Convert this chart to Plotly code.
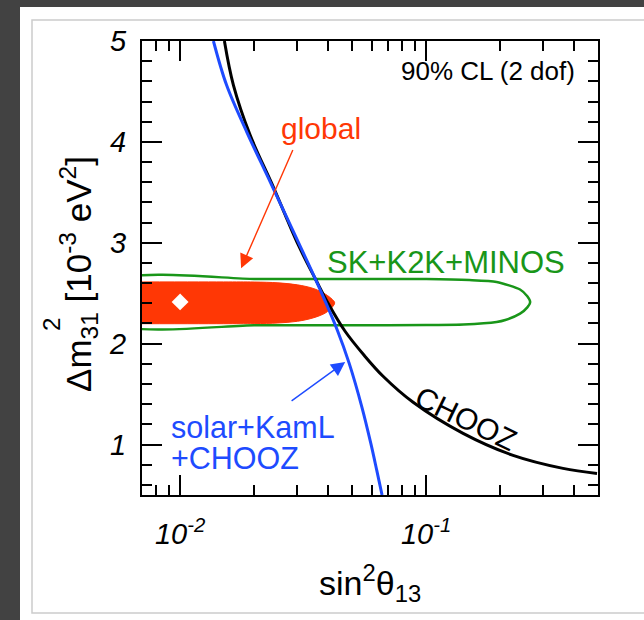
import numpy as np
import plotly.graph_objects as go

# ---------------- data ----------------
chooz_x = [0.01514, 0.01647, 0.01926, 0.02394, 0.03027, 0.03570, 0.03996, 0.04685,
           0.05598, 0.06686, 0.08859, 0.1414, 0.2258, 0.3604, 0.4954]
chooz_y = [5.0, 4.563, 4.067, 3.552, 2.976, 2.629, 2.401, 2.123,
           1.885, 1.677, 1.419, 1.111, 0.893, 0.764, 0.714]

solar_x = [0.01366, 0.01545, 0.01865, 0.02324, 0.03040, 0.03565, 0.04358, 0.04873,
           0.05483, 0.05965, 0.06304, 0.06623]
solar_y = [5.0, 4.563, 4.100, 3.604, 2.993, 2.629, 2.133, 1.802,
           1.372, 1.009, 0.744, 0.5]

sk_x = [0.006, 0.02, 0.05, 0.10, 0.15, 0.1936, 0.241, 0.258, 0.265,
        0.258, 0.241, 0.21, 0.1936, 0.1418, 0.10, 0.05, 0.02, 0.006, 0.006]
sk_y = [2.64, 2.642, 2.642, 2.64, 2.63, 2.612, 2.537, 2.47, 2.414,
        2.36, 2.298, 2.235, 2.215, 2.19, 2.185, 2.182, 2.182, 2.182, 2.64]

glob_x = [0.006, 0.015, 0.02, 0.025, 0.03, 0.035, 0.039, 0.0415, 0.0425,
          0.0415, 0.039, 0.035, 0.03, 0.025, 0.02, 0.015, 0.006]
glob_y = [2.612, 2.612, 2.611, 2.603, 2.583, 2.545, 2.49, 2.44, 2.405,
          2.36, 2.305, 2.258, 2.222, 2.205, 2.199, 2.198, 2.198]

best_x = [0.01]
best_y = [2.414]

x_major = [0.01, 0.1]
x_major_text = ["<i>10<sup>-2</sup></i>", "<i>10<sup>-1</sup></i>"]
x_minor = [0.008, 0.009, 0.02, 0.03, 0.04, 0.05, 0.06, 0.07, 0.08, 0.09, 0.2, 0.3, 0.4]
y_major = [1, 2, 3, 4, 5]
y_major_text = ["<i>1</i>", "<i>2</i>", "<i>3</i>", "<i>4</i>", "<i>5</i>"]

FONT = "Liberation Sans, Arial, Helvetica, sans-serif"
RED = "rgb(255,55,5)"
GREEN = "rgb(25,150,25)"
BLUE = "rgb(30,75,255)"

fig = go.Figure()
fig.add_trace(go.Scatter(x=glob_x, y=glob_y, mode="lines", fill="toself",
                         fillcolor=RED, line=dict(color=RED, width=1, shape="spline"),
                         hoverinfo="skip", showlegend=False))
fig.add_trace(go.Scatter(x=sk_x, y=sk_y, mode="lines",
                         line=dict(color=GREEN, width=2.5, shape="spline", smoothing=0.6),
                         hoverinfo="skip", showlegend=False))
fig.add_trace(go.Scatter(x=chooz_x, y=chooz_y, mode="lines",
                         line=dict(color="black", width=3, shape="spline", smoothing=1.0),
                         hoverinfo="skip", showlegend=False))
fig.add_trace(go.Scatter(x=solar_x, y=solar_y, mode="lines",
                         line=dict(color=BLUE, width=3, shape="spline", smoothing=1.0),
                         hoverinfo="skip", showlegend=False))
fig.add_trace(go.Scatter(x=best_x, y=best_y, mode="markers",
                         marker=dict(symbol="diamond", size=13, color="white"),
                         hoverinfo="skip", showlegend=False))

L = np.log10
ann = []
ann.append(dict(x=L(0.1786), y=4.70, text="90% CL (2 dof)", showarrow=False,
                font=dict(size=26, color="black", family=FONT), xanchor="center", yanchor="middle"))
ann.append(dict(x=L(0.0374), y=4.137, text="global", showarrow=False,
                font=dict(size=30, color=RED, family=FONT), xanchor="center", yanchor="middle"))
ann.append(dict(x=L(0.12), y=2.807, text="SK+K2K+MINOS", showarrow=False,
                font=dict(size=31, color=GREEN, family=FONT), xanchor="center", yanchor="middle"))
ann.append(dict(x=L(0.1455), y=1.26, text="CHOOZ", showarrow=False, textangle=26,
                font=dict(size=30, color="black", family=FONT), xanchor="center", yanchor="middle"))
ann.append(dict(x=L(0.00902), y=1.17, text="solar+KamL", showarrow=False,
                font=dict(size=30.5, color=BLUE, family=FONT), xanchor="left", yanchor="middle"))
ann.append(dict(x=L(0.00902), y=0.865, text="+CHOOZ", showarrow=False,
                font=dict(size=30.5, color=BLUE, family=FONT), xanchor="left", yanchor="middle"))
# arrows
ann.append(dict(x=L(0.0177), y=2.748, ax=L(0.0289), ay=3.935, axref="x", ayref="y",
                text="", showarrow=True, arrowhead=2, arrowsize=2, arrowwidth=1.4,
                arrowcolor=RED, standoff=0, startstandoff=0))
ann.append(dict(x=L(0.0469), y=1.818, ax=L(0.028), ay=1.422, axref="x", ayref="y",
                text="", showarrow=True, arrowhead=2, arrowsize=2, arrowwidth=1.4,
                arrowcolor=BLUE, standoff=0, startstandoff=0))
# axis titles
ann.append(dict(xref="paper", yref="paper", x=(370 - 142) / 456, y=(495 - 583) / 454,
                text="sin<sup>2</sup>θ<sub>13</sub>", showarrow=False,
                font=dict(size=34, color="black", family=FONT), xanchor="center", yanchor="middle"))
ann.append(dict(xref="paper", yref="paper", x=(78 - 142) / 456, y=(495 - 274) / 454,
                text="Δm<sub>31</sub> [10<sup>-3</sup> eV<sup>2</sup>]", showarrow=False, textangle=-90,
                font=dict(size=35, color="black", family=FONT), xanchor="center", yanchor="middle"))
ann.append(dict(xref="paper", yref="paper", x=(51 - 142) / 456, y=(495 - 325) / 454,
                text="2", showarrow=False, textangle=-90,
                font=dict(size=24, color="black", family=FONT), xanchor="center", yanchor="middle"))

def px(xp):
    return (xp - 142) / 456

def py(yp):
    return (495 - yp) / 454

shapes = [
    dict(type="rect", xref="paper", yref="paper", x0=px(20), x1=px(660), y0=py(640), y1=py(7),
         fillcolor="white", line=dict(width=0), layer="below"),
    dict(type="rect", xref="paper", yref="paper", x0=px(32), x1=px(660), y0=py(613), y1=py(20),
         fillcolor="rgba(0,0,0,0)", line=dict(width=1.5, color="#cccccc"), layer="below"),
]

fig.update_layout(
    width=644, height=620,
    margin=dict(l=142, r=46, t=41, b=125),
    paper_bgcolor="#424242", plot_bgcolor="white",
    font=dict(family=FONT, color="black"),
    annotations=ann, shapes=shapes, showlegend=False,
)
fig.update_xaxes(type="log", range=[L(0.007), L(0.5)],
                 tickvals=x_major, ticktext=x_major_text,
                 ticks="inside", ticklen=20, tickwidth=1.8, tickcolor="black",
                 minor=dict(tickvals=x_minor, ticks="inside", ticklen=10, tickwidth=1.8, tickcolor="black"),
                 showline=True, linecolor="black", linewidth=2, mirror="ticks",
                 showgrid=False, zeroline=False,
                 tickfont=dict(size=29, family=FONT, color="black"), ticklabelstandoff=12)
fig.update_yaxes(range=[0.5, 5],
                 tickvals=y_major, ticktext=y_major_text,
                 ticks="inside", ticklen=20, tickwidth=1.8, tickcolor="black",
                 minor=dict(dtick=0.2, ticks="inside", ticklen=10, tickwidth=1.8, tickcolor="black"),
                 showline=True, linecolor="black", linewidth=2, mirror="ticks",
                 showgrid=False, zeroline=False,
                 tickfont=dict(size=29, family=FONT, color="black"), ticklabelstandoff=8)

fig.write_html("out.html", config={"displayModeBar": False},
               post_script="document.body.style.margin='0px';")
